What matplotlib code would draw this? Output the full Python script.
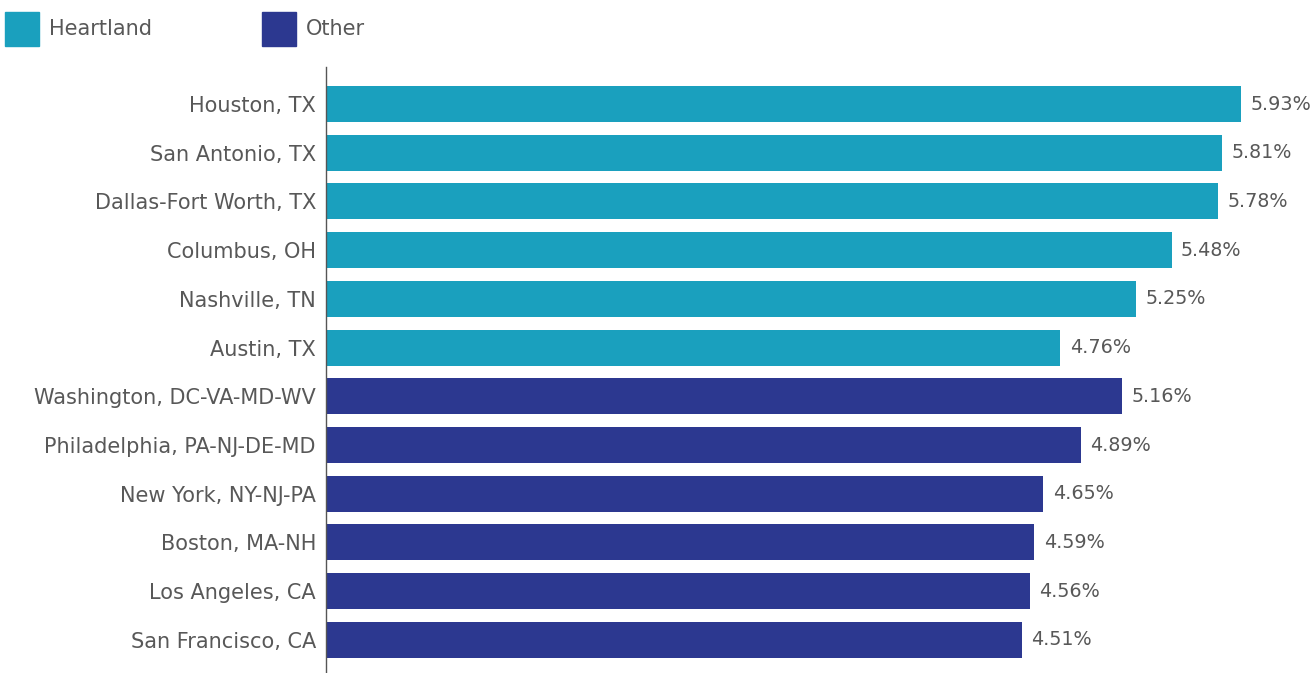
import matplotlib.pyplot as plt
from matplotlib.patches import Rectangle

# Metro areas and growth rates, top to bottom
metros = ['Houston, TX', 'San Antonio, TX', 'Dallas-Fort Worth, TX', 'Columbus, OH',
          'Nashville, TN', 'Austin, TX', 'Washington, DC-VA-MD-WV',
          'Philadelphia, PA-NJ-DE-MD', 'New York, NY-NJ-PA', 'Boston, MA-NH',
          'Los Angeles, CA', 'San Francisco, CA']
rates = [5.93, 5.81, 5.78, 5.48, 5.25, 4.76, 5.16, 4.89, 4.65, 4.59, 4.56, 4.51]
groups = ['Heartland'] * 6 + ['Other'] * 6

colors = {'Heartland': '#1AA0BE', 'Other': '#2C3890'}
text_color = '#585858'
plt.rcParams['font.family'] = ['DejaVu Sans']
fs = 15

fig = plt.figure(figsize=(13.14, 6.73), dpi=100)
ax = fig.add_axes([326 / 1314, 0, 1 - 326 / 1314, 1 - 67 / 673])

y = list(range(len(metros)))
ax.barh(y, rates, height=0.74, color=[colors[g] for g in groups])

for yi, r in zip(y, rates):
    ax.annotate(f'{r:.2f}%', (r, yi), xytext=(6.8, 0), textcoords='offset points',
                va='center', ha='left', fontsize=13.8, color=text_color)

ax.set_xlim(0, 988 / 154.3)
ax.set_ylim(11.68, -0.76)
ax.set_yticks(y)
ax.set_yticklabels(metros, fontsize=fs, color=text_color)
ax.tick_params(axis='y', length=0, pad=7.2)
ax.set_xticks([])
for side in ['top', 'right', 'bottom']:
    ax.spines[side].set_visible(False)
ax.spines['left'].set_color('#555555')
ax.spines['left'].set_linewidth(1)

# Legend drawn as squares and labels along the top
W, H = 1314, 673
for x0, label in [(5, 'Heartland'), (262, 'Other')]:
    fig.patches.append(Rectangle((x0 / W, 1 - 46 / H), 34 / W, 34 / H,
                                 transform=fig.transFigure, color=colors[label]))
    fig.text((x0 + 44) / W, 1 - 29 / H, label, fontsize=fs, color=text_color,
             va='center', ha='left')

fig.savefig('out.png', dpi=100)
